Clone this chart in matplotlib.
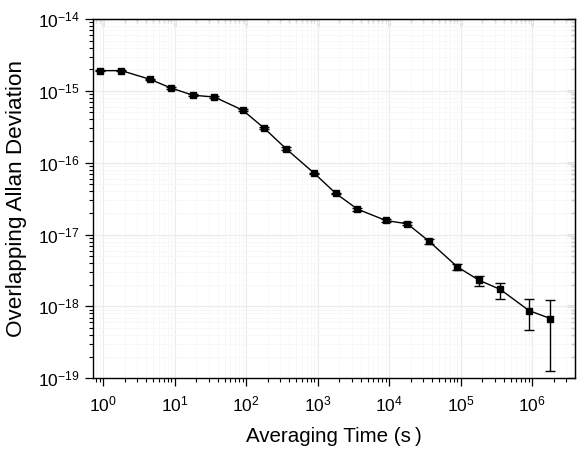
import numpy as np
import matplotlib
matplotlib.use('Agg')
import matplotlib.pyplot as plt

plt.rcParams['font.family'] = ['Liberation Sans', 'DejaVu Sans']
plt.rcParams['mathtext.fontset'] = 'custom'
plt.rcParams['mathtext.rm'] = 'Liberation Sans'

# averaging time (s)
tau = [0.9, 1.8, 4.5, 9, 18, 36, 90, 180, 360, 900, 1800, 3600,
       9000, 18000, 36000, 90000, 180000, 360000, 900000, 1800000]
# overlapping Allan deviation
adev = [1.91e-15, 1.91e-15, 1.45e-15, 1.09e-15, 8.7e-16, 8.2e-16, 5.37e-16, 3.0e-16,
        1.57e-16, 7.1e-17, 3.73e-17, 2.26e-17, 1.57e-17, 1.41e-17, 8.1e-18,
        3.55e-18, 2.32e-18, 1.72e-18, 8.77e-19, 6.78e-19]
# error bars (lower, upper)
err_lo = [0.04e-15, 0.04e-15, 0.03e-15, 0.025e-15, 0.02e-15, 0.02e-15, 0.015e-15, 0.01e-15,
          0.06e-16, 0.03e-17, 0.02e-17, 0.1e-17, 0.07e-17, 0.07e-17, 0.6e-18,
          0.35e-18, 0.41e-18, 0.46e-18, 4.06e-19, 5.5e-19]
err_hi = [0.04e-15, 0.04e-15, 0.03e-15, 0.025e-15, 0.02e-15, 0.02e-15, 0.015e-15, 0.01e-15,
          0.06e-16, 0.03e-17, 0.02e-17, 0.1e-17, 0.07e-17, 0.07e-17, 0.6e-18,
          0.4e-18, 0.37e-18, 0.43e-18, 3.93e-19, 5.52e-19]

fig = plt.figure(figsize=(5.8, 4.49), dpi=100)
ax = fig.add_axes([0.160, 0.1575, 0.831, 0.8002])

ax.errorbar(tau, adev, yerr=[err_lo, err_hi], color='black', lw=1.0,
            marker='s', ms=4.5, capsize=3.5, elinewidth=1.0, capthick=1.0)

ax.set_xscale('log')
ax.set_yscale('log')
ax.set_xlim(0.716, 3.95e6)
ax.set_ylim(1e-19, 1e-14)

ax.grid(True, which='major', color='#ebebeb', lw=0.8)
ax.grid(True, which='minor', color='#f7f7f7', lw=0.6)
ax.set_axisbelow(True)

ax.set_xticks([1e0, 1e1, 1e2, 1e3, 1e4, 1e5, 1e6])
ax.set_yticks([1e-19, 1e-18, 1e-17, 1e-16, 1e-15, 1e-14])
ax.tick_params(which='both', direction='out', labelsize=12.5, colors='black')
ax.tick_params(axis='x', pad=6)
ax.tick_params(which='major', length=6, width=0.9)
ax.tick_params(which='minor', length=3, width=0.8)

# mirrored ticks on top and right, pointing inwards
top = ax.secondary_xaxis('top')
top.set_xscale('log')
top.set_xticks([1e0, 1e1, 1e2, 1e3, 1e4, 1e5, 1e6])
top.tick_params(which='both', direction='in', labeltop=False)
top.tick_params(which='major', length=6, width=0.9)
top.tick_params(which='minor', length=3, width=0.8)
right = ax.secondary_yaxis('right')
right.set_yscale('log')
right.set_yticks([1e-19, 1e-18, 1e-17, 1e-16, 1e-15, 1e-14])
right.tick_params(which='both', direction='in', labelright=False)
right.tick_params(which='major', length=6, width=0.9)
right.tick_params(which='minor', length=3, width=0.8)

for s in ax.spines.values():
    s.set_linewidth(1.0)

ax.set_xlabel('Averaging Time (s\u2009)', fontsize=14.8, labelpad=9)
ax.set_ylabel('Overlapping Allan Deviation', fontsize=16.2, labelpad=8)

fig.savefig('out.png', dpi=100)
